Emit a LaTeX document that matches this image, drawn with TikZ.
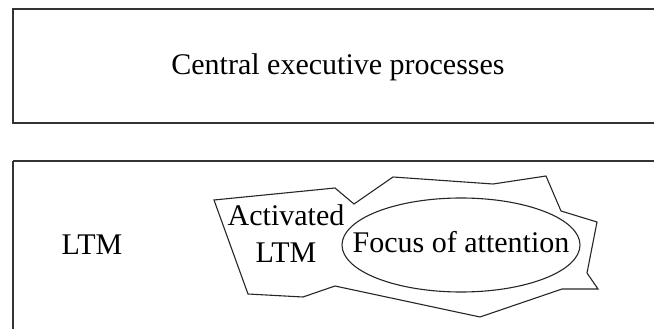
\documentclass[tikz,border=0pt]{standalone}
\usepackage{fontspec}
\setmainfont{Liberation Serif}

\begin{document}
\begin{tikzpicture}[%
		x=1pt, y=-1pt,
		panel/.style={
			draw=black!80,
			line width=1.6pt
		},
		boxtext/.style={
			anchor=base,
			inner sep=0pt,
			align=center,
			font=\fontsize{30}{37}\selectfont
		},
		blob/.style={
			draw=black!85,
			line width=1.1pt,
			line join=miter
		}]

		\clip (0,0) rectangle (654,329);

		% PANELS

		\draw[panel] (13,9) rectangle (680,123);
		\draw[panel] (13,161) -- (680,161);
		\draw[panel] (13,161) -- (13,340);

		\node (cep) [boxtext] at (338,75) {Central executive processes};
		\node (ltm) [boxtext] at (92,254) {LTM};

		% ACTIVATED LTM

		\draw[blob] (214,200) -- (335,188) -- (354,204) -- (393,177) -- (493,184)
			-- (546,176) -- (561,211) -- (597,222) -- (587,273) -- (598,289)
			-- (562,289) -- (480,317) -- (335,286) -- (303,297) -- (248,294) -- cycle;

		\node (act) [boxtext] at (286,262) {Activated\\LTM};

		% FOCUS OF ATTENTION

		\draw[blob] (461,245) ellipse (119 and 47);
		\node (foa) [boxtext] at (461,252) {Focus of attention};
\end{tikzpicture}
\end{document}
